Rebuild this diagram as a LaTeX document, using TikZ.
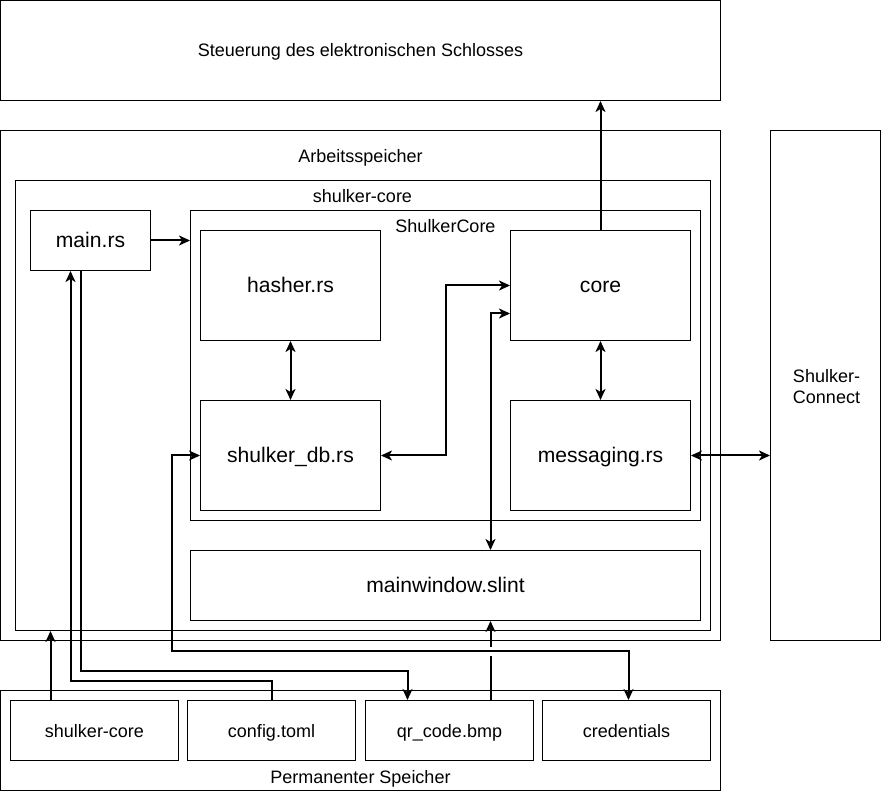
\documentclass[tikz,border=0pt]{standalone}
\usepackage{fontspec}
\setmainfont{Liberation Sans}
\usetikzlibrary{arrows.meta,calc}
\newcommand\lblfont{\fontsize{18}{21.5}\selectfont}
\newcommand\bigfont{\fontsize{21.1}{25}\selectfont}
\tikzset{
  box/.style={draw, line width=1pt, inner sep=0pt, font=\lblfont},
  bigbox/.style={box, font=\bigfont},
  lbl/.style={inner sep=0pt, font=\lblfont, text height=0.7em, text depth=0pt, yshift=-3pt},
  conn/.style={line width=2pt, >={Stealth[length=11pt,width=10pt,inset=3pt]}}
}
\begin{document}
\begin{tikzpicture}[x=1pt,y=-1pt]
\useasboundingbox (-0.5,-0.5) rectangle (880.5,790.5);
% top box
\node[box, minimum width=720pt, minimum height=100pt] (steu) at (360,50) {};
\node[lbl] (steulbl) at (360,50) {Steuerung des elektronischen Schlosses};
% Arbeitsspeicher
\node[box, minimum width=720pt, minimum height=510pt] (arb) at (360,385) {};
\node[lbl] (arblbl) at (360,156) {Arbeitsspeicher};
% shulker-core container
\node[box, minimum width=695pt, minimum height=450pt] (shc) at (362.5,405) {};
\node[lbl] (shclbl) at (362,196) {shulker-core};
% main.rs
\node[bigbox, minimum width=120pt, minimum height=60pt] (main) at (90,240) {};
\node[lbl, font=\bigfont, yshift=-0.8pt] (mainlbl) at (main) {main.rs};
% ShulkerCore
\node[box, minimum width=510pt, minimum height=310pt] (score) at (445,365) {};
\node[lbl] (scorelbl) at (445,226) {ShulkerCore};
\node[bigbox, minimum width=180pt, minimum height=110pt] (hasher) at (290,285) {};
\node[lbl, font=\bigfont, yshift=-0.8pt] (hasherlbl) at (hasher) {hasher.rs};
\node[bigbox, minimum width=180pt, minimum height=110pt] (core) at (600,285) {};
\node[lbl, font=\bigfont, yshift=-0.8pt] (corelbl) at (core) {core};
\node[bigbox, minimum width=180pt, minimum height=110pt] (db) at (290,455) {};
\node[lbl, font=\bigfont, yshift=-0.8pt] (dblbl) at (db) {shulker\_db.rs};
\node[bigbox, minimum width=180pt, minimum height=110pt] (msg) at (600,455) {};
\node[lbl, font=\bigfont, yshift=-0.8pt] (msglbl) at (msg) {messaging.rs};
% mainwindow
\node[bigbox, minimum width=510pt, minimum height=70pt] (mw) at (445,585) {};
\node[lbl, font=\bigfont, yshift=-0.8pt] (mwlbl) at (mw) {mainwindow.slint};
% Shulker-Connect
\node[box, minimum width=110pt, minimum height=510pt] (conn) at (825,385) {};
\node[inner sep=0pt, font=\lblfont, align=center] (connlbl) at (826,386) {Shulker-\\Connect};
% Permanenter Speicher
\node[box, minimum width=720pt, minimum height=100pt] (perm) at (360,740) {};
\node[lbl] (permlbl) at (360,776) {Permanenter Speicher};
\node[box, minimum width=168pt, minimum height=60pt] (b1) at (94,730) {};
\node[lbl] (b1lbl) at (b1) {shulker-core};
\node[box, minimum width=168pt, minimum height=60pt] (b2) at (271,730) {};
\node[lbl] (b2lbl) at (b2) {config.toml};
\node[box, minimum width=168pt, minimum height=60pt] (b3) at (449,730) {};
\node[lbl] (b3lbl) at (b3) {qr\_code.bmp};
\node[box, minimum width=168pt, minimum height=60pt] (b4) at (626,730) {};
\node[lbl] (b4lbl) at (b4) {credentials};
% connectors
\draw[conn,->] (main.east) -- (score.west |- main.east);
\draw[conn,<->] (hasher.south) -- (db.north);
\draw[conn,<->] (core.south) -- (msg.north);
\draw[conn,->] (core.north) -- (steu.south -| core.north);
\draw[conn,<->] (msg.east) -- (conn.west |- msg.east);
\draw[conn,<->] (db.east) -- (445,455) -- (445,285) -- (core.west);
\draw[conn,<->] ([yshift=-28pt]core.west) -| ([xshift=45pt]mw.north);
\draw[conn,->] ([xshift=-44pt]b1.north) -- ([xshift=-44pt]b1.north |- shc.south);
\draw[conn,->] (b2.north) -- (271,680) -- (70,680) -- ([xshift=-20pt]main.south);
\draw[conn,->] ([xshift=-10pt]main.south) -- (80,670) -- (407,670) -- ([xshift=-42pt]b3.north);
\draw[conn,<->] (db.west) -- (171,455) -- (171,650) -- (628,650) -- ([xshift=2pt]b4.north);
\draw[conn,->] ([xshift=41pt]b3.north) -- (490,655) (490,646) -- ([xshift=45pt]mw.south);
\end{tikzpicture}
\end{document}
